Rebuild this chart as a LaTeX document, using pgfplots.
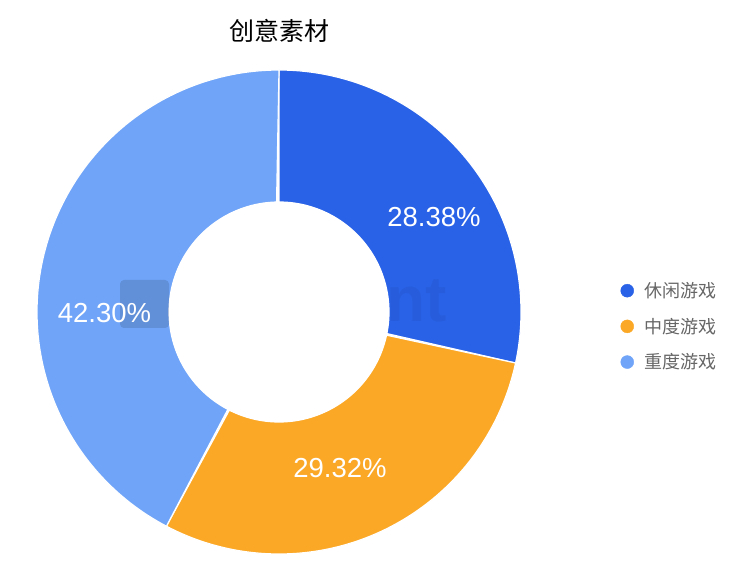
\documentclass[border=0pt]{standalone}
\usepackage{pgfplots}
\pgfplotsset{compat=1.18}
\usepackage{fontspec}
\setmainfont{Liberation Sans}
\newfontfamily\cjk{Noto Sans CJK SC}
\definecolor{cA}{HTML}{2962E7}
\definecolor{cB}{HTML}{FBA826}
\definecolor{cC}{HTML}{6FA4F8}
\definecolor{legtext}{HTML}{666666}
% shares (percent)
\def\vA{28.38}
\def\vB{29.32}
\def\vC{42.30}
\def\cx{279}\def\cy{258}\def\Ro{242}\def\Ri{110}
\pgfmathsetmacro\aA{90}
\pgfmathsetmacro\aB{\aA-3.6*\vA}
\pgfmathsetmacro\aC{\aB-3.6*\vB}
\pgfmathsetmacro\aD{\aC-3.6*\vC}
\newcommand{\sector}[3]{%
\addplot[fill=#3, draw=white, line width=1.2pt, domain=0:2, samples=241, variable=\t, forget plot]
 ({\t<=1 ? \cx+\Ro*cos(#1+(#2-#1)*\t) : \cx+\Ri*cos(#2-(#2-#1)*(\t-1))},
  {\t<=1 ? \cy+\Ro*sin(#1+(#2-#1)*\t) : \cy+\Ri*sin(#2-(#2-#1)*(\t-1))}) -- cycle;}
\begin{document}
\begin{tikzpicture}
\path[use as bounding box] (0,0) rectangle (751pt,570pt);
\begin{axis}[at={(0,0)}, anchor=south west, x=1pt, y=1pt, xmin=0, xmax=751, ymin=0, ymax=570,
  hide axis, clip=false,
  legend style={draw=none, fill=none, at={(0.822,0.512)}, anchor=north west,
    font=\cjk\fontsize{18pt}{21pt}\selectfont, text=legtext, row sep=15pt,
    /tikz/every odd column/.append style={column sep=9pt}},
  legend cell align=left]
\sector{\aA}{\aB}{cA}
\sector{\aB}{\aC}{cB}
\sector{\aC}{\aD}{cC}
% faint watermark
\fill[black, opacity=0.12, rounded corners=4pt] (axis cs:120,242) rectangle (axis cs:169,290);
\node[black, opacity=0.045, font=\bfseries\fontsize{64pt}{64pt}\selectfont, anchor=base west] at (axis cs:383,248) {nt};
\fill[white] (axis cs:\cx,\cy) circle[radius=\Ri pt];
% value labels
\node[white, font=\fontsize{27.5pt}{27.5pt}\selectfont] at (axis cs:434,353) {28.38\%};
\node[white, font=\fontsize{27.5pt}{27.5pt}\selectfont] at (axis cs:340,102) {29.32\%};
\node[white, font=\fontsize{27.5pt}{27.5pt}\selectfont] at (axis cs:104.5,257) {42.30\%};
% title
\node[font=\cjk\fontsize{25pt}{25pt}\selectfont] at (axis cs:279,539) {创意素材};
% legend entries
\addlegendimage{legend image code/.code={\fill[cA] (5pt,0) circle[radius=6.5pt];}}
\addlegendentry{休闲游戏}
\addlegendimage{legend image code/.code={\fill[cB] (5pt,0) circle[radius=6.5pt];}}
\addlegendentry{中度游戏}
\addlegendimage{legend image code/.code={\fill[cC] (5pt,0) circle[radius=6.5pt];}}
\addlegendentry{重度游戏}
\end{axis}
\end{tikzpicture}
\end{document}
